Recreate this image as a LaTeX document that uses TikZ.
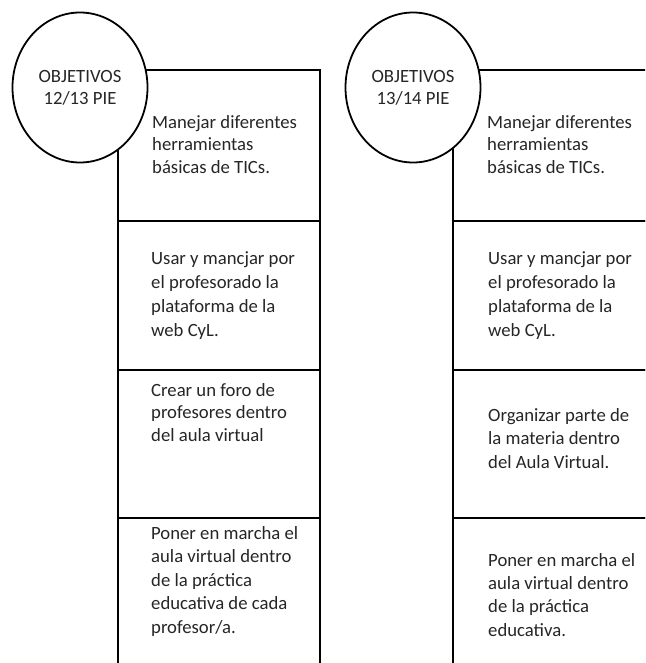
\documentclass[tikz,border=0pt]{standalone}
\usepackage{fontspec}
\setmainfont{Carlito}
\usetikzlibrary{positioning,shapes.geometric}
\tikzset{
  cell/.style ={draw=black, line width=1.6pt, fill=white, anchor=north west,
                inner sep=0pt, outer sep=0pt},
  obj/.style  ={draw=black, line width=1.8pt, fill=white, ellipse, inner sep=0pt,
                minimum width=135pt, minimum height=150pt, align=center,
                font=\fontsize{18.7}{22}\selectfont, text=black!85},
  txt/.style  ={anchor=base west, align=left, inner sep=0pt,
                font=\fontsize{18.7}{#1}\selectfont, text=black!85},
  txt/.default=23,
}

\begin{document}
\begin{tikzpicture}[x=1pt,y=-1pt]
\useasboundingbox (0,0) rectangle (645,663);
\clip (0,0) rectangle (645,663);

% left column
\node[cell, minimum width=202pt, minimum height=151pt] (l1) at (118,70) {};
\node[cell, minimum width=202pt, minimum height=149pt] (l2) at (l1.south west) {};
\node[cell, minimum width=202pt, minimum height=148pt] (l3) at (l2.south west) {};
\node[cell, minimum width=202pt, minimum height=170pt] (l4) at (l3.south west) {};

% right column
\node[cell, minimum width=215pt, minimum height=151pt] (r1) at (453,70) {};
\node[cell, minimum width=215pt, minimum height=149pt] (r2) at (r1.south west) {};
\node[cell, minimum width=215pt, minimum height=148pt] (r3) at (r2.south west) {};
\node[cell, minimum width=215pt, minimum height=170pt] (r4) at (r3.south west) {};

% headings
\node[obj] (o1) at (80,87.5)  {OBJETIVOS\\12/13 PIE};
\node[obj] (o2) at (413,87.5) {OBJETIVOS\\13/14 PIE};

% texts 12/13 (placed by the baseline of the last line)
\node[txt=22]   (lt1) at (152,173) {Manejar diferentes\\herramientas\\básicas de TICs.};
\node[txt=24]   (lt2) at (151,336) {Usar y mancjar por\\el profesorado la\\plataforma de la\\web CyL.};
\node[txt=22.5] (lt3) at (151,441) {Crear un foro de\\profesores dentro\\del aula virtual};
\node[txt=23.5] (lt4) at (151,633) {Poner en marcha el\\aula virtual dentro\\de la práctica\\educativa de cada\\profesor/a.};

% texts 13/14
\node[txt=22]   (rt1) at (487,173) {Manejar diferentes\\herramientas\\básicas de TICs.};
\node[txt=24]   (rt2) at (488,336) {Usar y mancjar por\\el profesorado la\\plataforma de la\\web CyL.};
\node[txt=23.5] (rt3) at (488,468) {Organizar parte de\\la materia dentro\\del Aula Virtual.};
\node[txt=23.3] (rt4) at (488,636) {Poner en marcha el\\aula virtual dentro\\de la práctica\\educativa.};
\end{tikzpicture}
\end{document}
